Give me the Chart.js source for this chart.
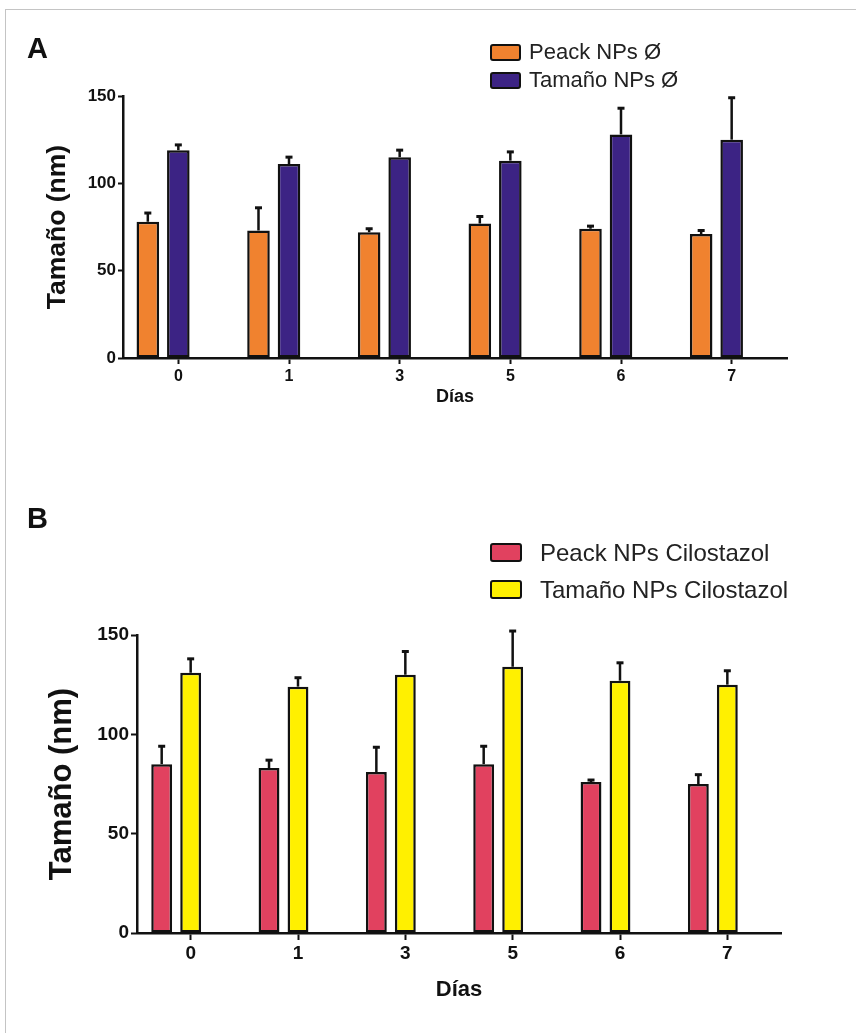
<!DOCTYPE html>
<html><head><meta charset="utf-8">
<script src="https://cdn.jsdelivr.net/npm/chart.js@4.4.1/dist/chart.umd.min.js"></script>
<style>
html,body{margin:0;padding:0;background:#fff;}
body{width:856px;height:1033px;position:relative;overflow:hidden;font-family:"Liberation Sans",Arial,sans-serif;}
#frame{position:absolute;left:5px;top:9px;width:900px;height:1100px;border-left:1px solid #c4c4c4;border-top:1px solid #c4c4c4;}
.panel{position:absolute;left:0;width:856px;}
canvas{display:block;}
.letter{position:absolute;font-weight:bold;font-size:29px;color:#111;line-height:1;}
.legend{position:absolute;color:#222;}
.row{display:flex;align-items:center;white-space:nowrap;}
.sw{box-sizing:border-box;border:2px solid #111;border-radius:3px;}
</style></head>
<body>
<div id="frame"></div>
<div class="panel" style="top:0;height:420px"><canvas id="cA" width="856" height="420"></canvas></div>
<div class="panel" style="top:470px;height:563px"><canvas id="cB" width="856" height="563"></canvas></div>
<div class="letter" style="left:27px;top:34px">A</div>
<div class="letter" style="left:27px;top:504px">B</div>
<div class="legend" id="legA" style="left:490px;top:38px"></div>
<div class="legend" id="legB" style="left:490px;top:534px"></div>
<script>
const dias = ['0', '1', '3', '5', '6', '7'];
const yTicks = [0, 50, 100, 150];
const spacer = [null, null, null, null, null, null];

const seriesA = ['Peack NPs Ø', 'Tamaño NPs Ø'];
const peackVacias = [78, 73, 72, 77, 74, 71];
const peackVaciasErr = [5, 13, 2, 4, 1.5, 2];
const tamanoVacias = [119, 111, 115, 113, 128, 125];
const tamanoVaciasErr = [3, 4, 4, 5, 15, 24];

const seriesB = ['Peack NPs Cilostazol', 'Tamaño NPs Cilostazol'];
const peackCilo = [85, 83, 81, 85, 76, 75];
const peackCiloErr = [9, 4, 12.5, 9, 1, 4.7];
const tamanoCilo = [131, 124, 130, 134, 127, 125];
const tamanoCiloErr = [7, 4.5, 11.7, 18, 9, 7];

const FONT = '"Liberation Sans", Arial, sans-serif';
const INK = '#111';

const errorBars = {
  id: 'errorBars',
  afterDatasetsDraw(chart, args, opts) {
    const ctx = chart.ctx, y = chart.scales.y;
    chart.data.datasets.forEach((ds, di) => {
      if (!ds.errors) return;
      const meta = chart.getDatasetMeta(di);
      meta.data.forEach((bar, i) => {
        const v = ds.data[i], e = ds.errors[i];
        if (v == null) return;
        const top = y.getPixelForValue(v + e);
        ctx.save();
        ctx.strokeStyle = INK;
        ctx.lineWidth = opts.width;
        ctx.beginPath();
        ctx.moveTo(bar.x, bar.y);
        ctx.lineTo(bar.x, top);
        ctx.stroke();
        ctx.lineWidth = opts.capWidth;
        ctx.beginPath();
        ctx.moveTo(bar.x - opts.cap, top);
        ctx.lineTo(bar.x + opts.cap, top);
        ctx.stroke();
        ctx.restore();
      });
    });
  }
};

function makeChart(id, c) {
  const barOpts = {borderColor: INK, borderWidth: c.bw, borderSkipped: false,
    categoryPercentage: c.cp, barPercentage: c.bp};
  return new Chart(document.getElementById(id), {
    type: 'bar',
    data: {
      labels: dias,
      datasets: [
        Object.assign({label: c.names[0], data: c.v1, errors: c.e1, backgroundColor: c.c1}, barOpts),
        Object.assign({label: c.names[1], data: c.v2, errors: c.e2, backgroundColor: c.c2}, barOpts),
        Object.assign({label: '', data: spacer, backgroundColor: 'rgba(0,0,0,0)'}, barOpts)
      ]
    },
    options: {
      responsive: false, animation: false, events: [],
      layout: {padding: {left: 0, right: c.padR, top: c.padT, bottom: c.padB}},
      plugins: {legend: {display: false}, tooltip: {enabled: false},
        errorBars: {cap: 3.5, width: 2.5, capWidth: 3}},
      scales: {
        x: {
          grid: {offset: false, drawOnChartArea: false, drawTicks: true, tickLength: c.xTL, tickColor: INK, tickWidth: 2},
          border: {color: INK, width: 2.5},
          ticks: {color: INK, font: {family: FONT, size: c.xFs, weight: 'bold'}, padding: c.xTP, maxRotation: 0, autoSkip: false},
          title: {display: true, text: 'Días', color: INK, font: {family: FONT, size: c.xTitleFs, weight: 'bold'}, padding: {top: 0, bottom: c.xTitlePad}},
          afterFit(s) { s.height = c.xH; }
        },
        y: {
          min: 0, max: 150,
          afterBuildTicks(s) { s.ticks = yTicks.map(v => ({value: v})); },
          grid: {drawOnChartArea: false, drawTicks: true, tickLength: c.yTL, tickColor: INK, tickWidth: 2},
          border: {color: INK, width: 2.5},
          ticks: {color: INK, font: {family: FONT, size: c.yFs, weight: 'bold'}, padding: 2},
          title: {display: true, text: 'Tamaño (nm)', color: INK, font: {family: FONT, size: c.yTitleFs, weight: 'bold'}, padding: {top: c.yTitlePad, bottom: 0}},
          afterFit(s) { s.width = c.yW; }
        }
      }
    },
    plugins: [errorBars]
  });
}

const chartA = makeChart('cA', {
  names: seriesA, v1: peackVacias, e1: peackVaciasErr, v2: tamanoVacias, e2: tamanoVaciasErr,
  c1: '#F0822F', c2: '#3C2384', bw: 2.5, cp: 0.827, bp: 0.74,
  padR: 69, padT: 96, padB: 0, xH: 62, yW: 123,
  xTL: 6, xTP: 3, xFs: 16, xTitleFs: 18, xTitlePad: 12,
  yTL: 5, yFs: 17, yTitleFs: 26.5, yTitlePad: 42
});
const chartB = makeChart('cB', {
  names: seriesB, v1: peackCilo, e1: peackCiloErr, v2: tamanoCilo, e2: tamanoCiloErr,
  c1: '#E1415F', c2: '#FFF000', bw: 2.5, cp: 0.81, bp: 0.72,
  padR: 75, padT: 165, padB: 20, xH: 80, yW: 137,
  xTL: 7, xTP: 2, xFs: 19, xTitleFs: 22, xTitlePad: 10,
  yTL: 6, yFs: 19, yTitleFs: 31, yTitlePad: 44
});

function buildLegend(elId, chart, rowH, swW, swH, gap, fs) {
  const el = document.getElementById(elId);
  chart.data.datasets.slice(0, 2).forEach(ds => {
    const row = document.createElement('div');
    row.className = 'row';
    row.style.height = rowH + 'px';
    const sw = document.createElement('div');
    sw.className = 'sw';
    sw.style.width = swW + 'px';
    sw.style.height = swH + 'px';
    sw.style.background = ds.backgroundColor;
    const tx = document.createElement('span');
    tx.textContent = ds.label;
    tx.style.marginLeft = gap + 'px';
    tx.style.fontSize = fs + 'px';
    row.appendChild(sw);
    row.appendChild(tx);
    el.appendChild(row);
  });
}
buildLegend('legA', chartA, 28, 31, 17, 8, 22);
buildLegend('legB', chartB, 37, 32, 19, 18, 24);
</script>
</body></html>
